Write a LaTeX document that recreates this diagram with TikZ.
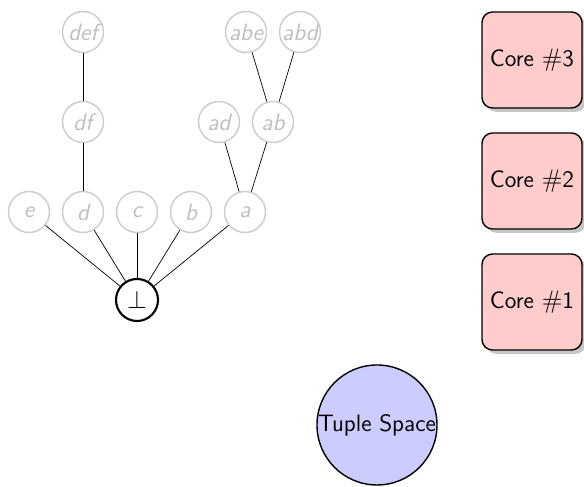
\documentclass[tikz,border=0pt]{standalone}
\usepackage{amsmath,amssymb}
\usepackage{tikz}
\usetikzlibrary{shadows}
\renewcommand{\familydefault}{\sfdefault}

\begin{document}
\begin{tikzpicture}[
    font=\fontsize{13.5}{16}\selectfont,
    elem/.style={circle,draw=black!20,thick,text=black!25,minimum size=0.82cm,inner sep=0pt,
        font=\fontsize{13.5}{16}\selectfont\sffamily\itshape},
    root/.style={circle,draw=black,very thick,minimum size=0.84cm,inner sep=0pt},
    core/.style={rectangle,rounded corners=6pt,draw=black,thick,fill=red!20,
        minimum width=2cm,minimum height=1.92cm,drop shadow={opacity=0.45}},
    space/.style={circle,draw=black,thick,fill=blue!20,minimum size=2.4cm,inner sep=0pt}
]
    \useasboundingbox (0,0) rectangle (11.68,9.74);

    % 底元素
    \node[root] (bot) at (2.74,3.74) {$\bot$};

    % 第一层
    \node[elem] (e) at (0.58,5.5) {e};
    \node[elem] (d) at (1.66,5.5) {d};
    \node[elem] (c) at (2.74,5.5) {c};
    \node[elem] (b) at (3.82,5.5) {b};
    \node[elem] (a) at (4.90,5.5) {a};

    % 上层
    \node[elem] (df) at (1.66,7.3) {df};
    \node[elem] (def) at (1.66,9.1) {def};
    \node[elem] (ad) at (4.38,7.3) {ad};
    \node[elem] (ab) at (5.46,7.3) {ab};
    \node[elem] (abe) at (4.92,9.1) {abe};
    \node[elem] (abd) at (6.00,9.1) {abd};

    % 连线
    \foreach \n in {e,d,c,b,a}
        \draw (bot) -- (\n);
    \draw (d) -- (df) -- (def);
    \draw (a) -- (ad);
    \draw (a) -- (ab);
    \draw (ab) -- (abe);
    \draw (ab) -- (abd);

    % 处理器核
    \node[core] (core3) at (10.64,8.54) {Core $\#$3};
    \node[core] (core2) at (10.64,6.12) {Core $\#$2};
    \node[core] (core1) at (10.64,3.70) {Core $\#$1};

    % 元组空间
    \node[space] (tuples) at (7.54,1.24) {Tuple Space};
\end{tikzpicture}
\end{document}
